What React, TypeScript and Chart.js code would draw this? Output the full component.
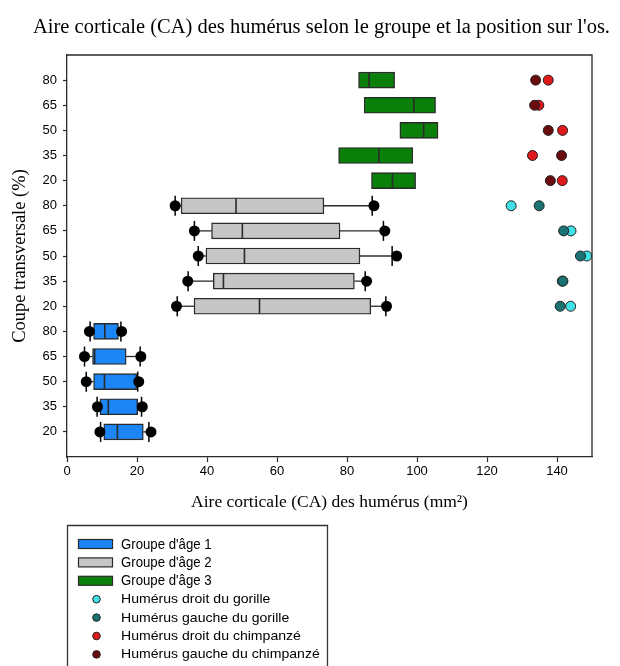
import { useEffect, useRef } from 'react';
import { Chart, registerables } from 'chart.js';

Chart.register(...registerables);

const TITLE = "Aire corticale (CA) des humérus selon le groupe et la position sur l'os.";
const X_TITLE = 'Aire corticale (CA) des humérus (mm²)';
const Y_TITLE = 'Coupe transversale (%)';

// Cross-section positions (% of bone length), listed bottom to top within each block
const sections = ['20', '35', '50', '65', '80'];
const xTicks = [0, 20, 40, 60, 80, 100, 120, 140];

// Age group 1 (rows 1–5): whisker ends, quartiles, median, extreme points (mm²)
const g1Low = [9.6, 8.6, 5.5, 5.0, 6.6];
const g1Q1 = [10.5, 9.4, 7.6, 7.3, 7.6];
const g1Median = [14.4, 11.8, 10.7, 7.9, 10.8];
const g1Q3 = [21.8, 20.2, 19.9, 16.9, 14.7];
const g1High = [23.4, 21.3, 20.2, 20.9, 15.4];
const g1OutLow = [9.4, 8.7, 5.5, 5.0, 6.4];
const g1OutHigh = [24.0, 21.5, 20.5, 21.1, 15.6];

// Age group 2 (rows 6–10)
const g2Low = [31.5, 34.6, 37.5, 36.4, 30.9];
const g2Q1 = [36.3, 41.8, 39.7, 41.3, 32.6];
const g2Median = [55.0, 44.7, 50.7, 50.1, 48.3];
const g2Q3 = [86.8, 82.1, 83.7, 78.0, 73.4];
const g2High = [91.1, 85.2, 92.9, 90.4, 87.2];
const g2OutLow = [31.3, 34.5, 37.5, 36.4, 30.9];
const g2OutHigh = [91.3, 85.6, 94.2, 90.8, 87.7];

// Age group 3 (rows 11–15): boxes only
const g3Q1 = [87.0, 77.6, 95.1, 84.9, 83.3];
const g3Median = [93.0, 89.1, 101.9, 99.1, 86.3];
const g3Q3 = [99.6, 98.8, 106.0, 105.3, 93.6];

// Individual specimens: gorilla on rows 6–10, chimpanzee on rows 11–15
const gorillaRight = [143.9, 141.5, 148.5, 144.0, 126.9];
const gorillaLeft = [140.9, 141.7, 146.7, 141.9, 134.9];
const chimpRight = [141.5, 133.0, 141.6, 134.8, 137.5];
const chimpLeft = [138.1, 141.3, 137.5, 133.6, 133.9];

const BLUE = '#1c86f7';
const GREY = '#c6c6c6';
const GREEN = '#0a7f0a';
const CYAN = '#3fe0e6';
const TEAL = '#1b7273';
const RED = '#e0191b';
const DARK_RED = '#6a0c0e';
const EDGE = '#2a2a2a';

const legendBoxes = [
  { label: "Groupe d'âge 1", color: BLUE },
  { label: "Groupe d'âge 2", color: GREY },
  { label: "Groupe d'âge 3", color: GREEN },
];
const legendDots = [
  { label: 'Humérus droit du gorille', color: CYAN },
  { label: 'Humérus gauche du gorille', color: TEAL },
  { label: 'Humérus droit du chimpanzé', color: RED },
  { label: 'Humérus gauche du chimpanzé', color: DARK_RED },
];

const rowOf = (block: number, i: number) => block * 5 + i + 1;

function buildDatasets() {
  const ds: any[] = [];
  const blocks = [
    { block: 0, fill: BLUE, q1: g1Q1, med: g1Median, q3: g1Q3, low: g1Low, high: g1High, outLow: g1OutLow, outHigh: g1OutHigh },
    { block: 1, fill: GREY, q1: g2Q1, med: g2Median, q3: g2Q3, low: g2Low, high: g2High, outLow: g2OutLow, outHigh: g2OutHigh },
    { block: 2, fill: GREEN, q1: g3Q1, med: g3Median, q3: g3Q3, low: [], high: [], outLow: [], outHigh: [] },
  ];

  blocks.forEach((b) => {
    // whiskers
    b.low.forEach((lo: number, i: number) => {
      const y = rowOf(b.block, i);
      ds.push({
        type: 'line', order: 6, borderColor: EDGE, borderWidth: 1.3, pointRadius: 0,
        data: [{ x: lo, y }, { x: b.q1[i], y }],
      });
      ds.push({
        type: 'line', order: 6, borderColor: EDGE, borderWidth: 1.3, pointRadius: 0,
        data: [{ x: b.q3[i], y }, { x: b.high[i], y }],
      });
    });
    // boxes
    ds.push({
      type: 'bar', indexAxis: 'y', order: 5, grouped: false, barThickness: 16,
      backgroundColor: b.fill, borderColor: EDGE, borderWidth: 1.4, borderSkipped: false,
      data: b.q1.map((v: number, i: number) => ({ x: [v, b.q3[i]], y: rowOf(b.block, i) })),
    });
    // medians
    ds.push({
      type: 'scatter', order: 4, pointStyle: 'line', rotation: 90, pointRadius: 7.5,
      borderColor: EDGE, pointBorderWidth: 1.6,
      data: b.med.map((v: number, i: number) => ({ x: v, y: rowOf(b.block, i) })),
    });
    if (b.low.length) {
      // whisker caps
      ds.push({
        type: 'scatter', order: 3, pointStyle: 'line', rotation: 90, pointRadius: 10,
        borderColor: '#000', pointBorderWidth: 1.5,
        data: [
          ...b.low.map((v: number, i: number) => ({ x: v, y: rowOf(b.block, i) })),
          ...b.high.map((v: number, i: number) => ({ x: v, y: rowOf(b.block, i) })),
        ],
      });
      // extreme points
      ds.push({
        type: 'scatter', order: 2, pointStyle: 'circle', pointRadius: 5.5,
        backgroundColor: '#000', borderColor: '#000', pointBorderWidth: 0,
        data: [
          ...b.outLow.map((v: number, i: number) => ({ x: v, y: rowOf(b.block, i) })),
          ...b.outHigh.map((v: number, i: number) => ({ x: v, y: rowOf(b.block, i) })),
        ],
      });
    }
  });

  const specimens = [
    { values: gorillaRight, block: 1, color: CYAN, order: 1.5 },
    { values: gorillaLeft, block: 1, color: TEAL, order: 1 },
    { values: chimpRight, block: 2, color: RED, order: 1.5 },
    { values: chimpLeft, block: 2, color: DARK_RED, order: 1 },
  ];
  specimens.forEach((s) => {
    ds.push({
      type: 'scatter', order: s.order, pointStyle: 'circle', pointRadius: 5,
      backgroundColor: s.color, borderColor: '#222', pointBorderWidth: 1,
      data: s.values.map((v, i) => ({ x: v, y: rowOf(s.block, i) })),
    });
  });
  return ds;
}

// Legend text is drawn with a slight horizontal scale on each row set
function legendText(ctx: CanvasRenderingContext2D, text: string, x: number, y: number, size: number, sx: number) {
  ctx.save();
  ctx.translate(x, y);
  ctx.scale(sx, 1);
  ctx.font = `${size}px "Liberation Sans", Arial, sans-serif`;
  ctx.fillStyle = '#000';
  ctx.textAlign = 'left';
  ctx.textBaseline = 'middle';
  ctx.fillText(text, 0, 0);
  ctx.restore();
}

const framePlugin = {
  id: 'frame',
  beforeDatasetsDraw(chart: any) {
    const { ctx, chartArea: a } = chart;
    ctx.save();
    ctx.strokeStyle = EDGE;
    ctx.lineWidth = 1.3;
    ctx.beginPath();
    ctx.moveTo(a.left, a.top);
    ctx.lineTo(a.right, a.top);
    ctx.lineTo(a.right, a.bottom);
    ctx.stroke();
    ctx.restore();
  },
  afterDraw(chart: any) {
    const { ctx } = chart;
    ctx.save();
    // chart title
    ctx.fillStyle = '#000';
    ctx.font = '20.5px "Liberation Serif", "Times New Roman", serif';
    ctx.textAlign = 'center';
    ctx.textBaseline = 'middle';
    ctx.fillText(TITLE, 321.5, 28);

    // legend frame (open at the bottom edge)
    ctx.strokeStyle = '#333';
    ctx.lineWidth = 1.3;
    ctx.beginPath();
    ctx.moveTo(67.5, 672);
    ctx.lineTo(67.5, 525.5);
    ctx.lineTo(327.5, 525.5);
    ctx.lineTo(327.5, 672);
    ctx.stroke();

    let y = 544;
    legendBoxes.forEach((item) => {
      ctx.fillStyle = item.color;
      ctx.fillRect(78.5, y - 4.5, 34, 9);
      ctx.strokeStyle = EDGE;
      ctx.lineWidth = 1.2;
      ctx.strokeRect(78.5, y - 4.5, 34, 9);
      legendText(ctx, item.label, 121, y + 0.5, 15, 0.88);
      y += 18.4;
    });
    legendDots.forEach((item) => {
      ctx.beginPath();
      ctx.arc(96.5, y, 3.8, 0, Math.PI * 2);
      ctx.fillStyle = item.color;
      ctx.fill();
      ctx.strokeStyle = '#222';
      ctx.lineWidth = 1;
      ctx.stroke();
      legendText(ctx, item.label, 121, y + 0.5, 12.8, 1.1);
      y += 18.4;
    });
    ctx.restore();
  },
};

export default function App() {
  const canvasRef = useRef<HTMLCanvasElement | null>(null);

  useEffect(() => {
    if (!canvasRef.current) return;
    const rows = Array.from({ length: 15 }, (_, i) => i + 1);
    const chart = new Chart(canvasRef.current, {
      type: 'bar',
      data: { datasets: buildDatasets() },
      options: {
        animation: false,
        responsive: false,
        events: [],
        layout: { padding: { top: 55, right: 28, bottom: 149, left: 0 } },
        plugins: { legend: { display: false }, tooltip: { enabled: false }, title: { display: false } },
        scales: {
          x: {
            type: 'linear',
            min: 0,
            max: 150,
            offset: false,
            afterBuildTicks: (s: any) => { s.ticks = xTicks.map((v) => ({ value: v })); },
            afterFit: (s: any) => { s.height = 60; },
            ticks: {
              color: '#000', padding: 2, maxRotation: 0, autoSkip: false,
              font: { family: '"Liberation Sans", Arial, sans-serif', size: 13 },
            },
            grid: { display: true, drawOnChartArea: false, offset: false, tickLength: 5, color: EDGE, tickWidth: 1.2 },
            border: { display: true, color: EDGE, width: 1.3 },
            title: {
              display: true, text: X_TITLE, color: '#000', padding: { top: 0, bottom: 4 },
              font: { family: '"Liberation Serif", "Times New Roman", serif', size: 17.5 },
            },
          },
          y: {
            type: 'linear',
            min: 0,
            max: 16,
            offset: false,
            afterBuildTicks: (s: any) => { s.ticks = rows.map((v) => ({ value: v })); },
            afterFit: (s: any) => { s.width = 67; },
            ticks: {
              color: '#000', padding: 6, autoSkip: false,
              font: { family: '"Liberation Sans", Arial, sans-serif', size: 13 },
              callback: (v: any) => sections[(Number(v) - 1) % 5],
            },
            grid: { display: true, drawOnChartArea: false, offset: false, tickLength: 4, color: EDGE, tickWidth: 1.2 },
            border: { display: true, color: EDGE, width: 1.3 },
            title: {
              display: true, text: Y_TITLE, color: '#000', padding: { top: 9, bottom: 0 },
              font: { family: '"Liberation Serif", "Times New Roman", serif', size: 18.5 },
            },
          },
        },
      } as any,
      plugins: [framePlugin],
    });
    return () => chart.destroy();
  }, []);

  return (
    <div style={{ position: 'absolute', left: 0, top: 0, width: 620, height: 666, background: '#fff' }}>
      <canvas ref={canvasRef} width={620} height={666} style={{ display: 'block' }} />
    </div>
  );
}
